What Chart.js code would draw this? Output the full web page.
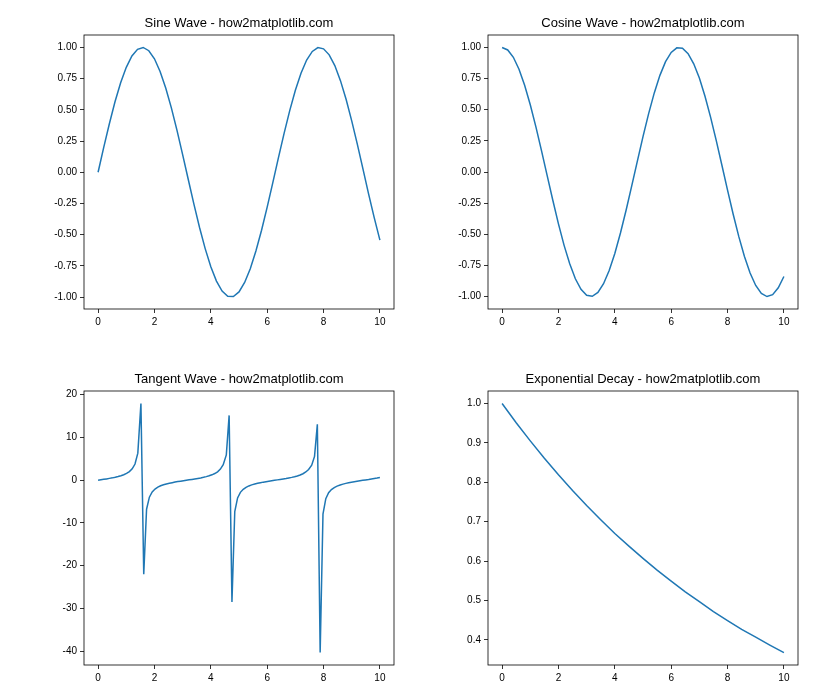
<!DOCTYPE html>
<html>
<head>
<meta charset="utf-8">
<script src="https://cdn.jsdelivr.net/npm/chart.js@4.4.1/dist/chart.umd.min.js"></script>
<style>
  html, body { margin: 0; padding: 0; background: #ffffff; }
  #wrap { position: relative; width: 840px; height: 700px; background: #ffffff; overflow: hidden; }
  canvas { position: absolute; }
</style>
</head>
<body>
<div id="wrap">
  <canvas id="c1" width="478" height="350" style="left:0px;top:0px"></canvas>
  <canvas id="c2" width="478" height="350" style="left:404px;top:0px"></canvas>
  <canvas id="c3" width="478" height="350" style="left:0px;top:356px"></canvas>
  <canvas id="c4" width="478" height="350" style="left:404px;top:356px"></canvas>
</div>
<script>
// ---------------- DATA ----------------
const titles = [
  "Sine Wave - how2matplotlib.com",
  "Cosine Wave - how2matplotlib.com",
  "Tangent Wave - how2matplotlib.com",
  "Exponential Decay - how2matplotlib.com"
];

// x positions for sine / cosine curves
const xWave = [0.0,0.2,0.4,0.6,0.8,1.0,1.2,1.4,1.6,1.8,2.0,2.2,2.4,2.6,2.8,3.0,3.2,3.4,3.6,3.8,
  4.0,4.2,4.4,4.6,4.8,5.0,5.2,5.4,5.6,5.8,6.0,6.2,6.4,6.6,6.8,7.0,7.2,7.4,7.6,7.8,
  8.0,8.2,8.4,8.6,8.8,9.0,9.2,9.4,9.6,9.8,10.0];

const sineValues = [0.000,0.199,0.389,0.565,0.717,0.841,0.932,0.985,1.000,0.974,
  0.909,0.808,0.675,0.516,0.335,0.141,-0.058,-0.256,-0.443,-0.612,
  -0.757,-0.872,-0.952,-0.994,-0.996,-0.959,-0.883,-0.773,-0.631,-0.465,
  -0.279,-0.083,0.117,0.312,0.494,0.657,0.794,0.899,0.968,0.999,
  0.989,0.941,0.855,0.734,0.585,0.412,0.223,0.025,-0.175,-0.366,-0.544];

const cosineValues = [1.000,0.980,0.921,0.825,0.697,0.540,0.362,0.170,-0.029,-0.227,
  -0.416,-0.589,-0.737,-0.857,-0.942,-0.990,-0.998,-0.967,-0.897,-0.791,
  -0.654,-0.490,-0.307,-0.112,0.087,0.284,0.469,0.635,0.776,0.886,
  0.960,0.997,0.993,0.950,0.869,0.754,0.608,0.439,0.252,0.054,
  -0.146,-0.339,-0.519,-0.679,-0.811,-0.911,-0.975,-1.000,-0.985,-0.930,-0.839];

// x positions for the tangent curve (100 samples)
const xTan = [0.00,0.10,0.20,0.30,0.40,0.51,0.61,0.71,0.81,0.91,
  1.01,1.11,1.21,1.31,1.41,1.52,1.62,1.72,1.82,1.92,
  2.02,2.12,2.22,2.32,2.42,2.53,2.63,2.73,2.83,2.93,
  3.03,3.13,3.23,3.33,3.43,3.54,3.64,3.74,3.84,3.94,
  4.04,4.14,4.24,4.34,4.44,4.55,4.65,4.75,4.85,4.95,
  5.05,5.15,5.25,5.35,5.45,5.56,5.66,5.76,5.86,5.96,
  6.06,6.16,6.26,6.36,6.46,6.57,6.67,6.77,6.87,6.97,
  7.07,7.17,7.27,7.37,7.47,7.58,7.68,7.78,7.88,7.98,
  8.08,8.18,8.28,8.38,8.48,8.59,8.69,8.79,8.89,8.99,
  9.09,9.19,9.29,9.39,9.49,9.60,9.70,9.80,9.90,10.00];

const tangentValues = [0.00,0.10,0.20,0.31,0.43,0.55,0.69,0.85,1.05,1.28,
  1.59,2.02,2.67,3.79,6.33,17.95,-22.01,-6.78,-3.96,-2.75,
  -2.07,-1.63,-1.31,-1.07,-0.87,-0.71,-0.57,-0.44,-0.32,-0.22,
  -0.11,-0.01,0.09,0.19,0.30,0.42,0.54,0.68,0.84,1.03,
  1.26,1.56,1.97,2.59,3.64,5.93,15.15,-28.48,-7.31,-4.14,
  -2.84,-2.13,-1.67,-1.34,-1.09,-0.89,-0.72,-0.58,-0.45,-0.34,
  -0.23,-0.12,-0.02,0.08,0.18,0.29,0.40,0.53,0.66,0.82,
  1.00,1.23,1.52,1.92,2.51,3.50,5.58,13.10,-40.30,-7.91,
  -4.33,-2.94,-2.19,-1.71,-1.37,-1.11,-0.91,-0.74,-0.59,-0.46,
  -0.35,-0.24,-0.13,-0.03,0.07,0.17,0.28,0.39,0.51,0.65];

// x positions for the exponential decay curve
const xExp = [0.0,0.5,1.0,1.5,2.0,2.5,3.0,3.5,4.0,4.5,5.0,5.5,6.0,6.5,7.0,7.5,8.0,8.5,9.0,9.5,10.0];
const expValues = [1.000,0.951,0.905,0.861,0.819,0.779,0.741,0.705,0.670,0.638,
  0.607,0.577,0.549,0.522,0.497,0.472,0.449,0.427,0.407,0.387,0.368];

// tick labels
const xTicks = [0, 2, 4, 6, 8, 10];
const waveTicks = [-1.00, -0.75, -0.50, -0.25, 0.00, 0.25, 0.50, 0.75, 1.00];
const tanTicks = [-40, -30, -20, -10, 0, 10, 20];
const expTicks = [0.4, 0.5, 0.6, 0.7, 0.8, 0.9, 1.0];

// ---------------- RENDER ----------------
const LINE = '#1f77b4';
const FONT = "'Liberation Sans', Arial, sans-serif";

function limits(arr) {
  const mn = Math.min(...arr), mx = Math.max(...arr);
  const m = (mx - mn) * 0.05;
  return [mn - m, mx + m];
}
function fmt(v, dec) {
  const s = Math.abs(v).toFixed(dec);
  return (v < 0 && Number(s) !== 0 ? '-' : '') + s;
}

const frame = {
  id: 'frame',
  afterDraw(chart) {
    const a = chart.chartArea, ctx = chart.ctx;
    ctx.save();
    ctx.strokeStyle = '#000';
    ctx.lineWidth = 0.8;
    ctx.strokeRect(a.left, a.top, a.right - a.left, a.bottom - a.top);
    ctx.restore();
  }
};

function makeChart(id, title, xs, ys, yTicks, dec) {
  const [xmin, xmax] = limits(xs);
  const [ymin, ymax] = limits(ys);
  return new Chart(document.getElementById(id), {
    type: 'line',
    data: {
      datasets: [{
        data: xs.map((x, i) => ({ x: x, y: ys[i] })),
        borderColor: LINE,
        borderWidth: 1.5,
        pointRadius: 0,
        tension: 0,
        fill: false
      }]
    },
    options: {
      responsive: false,
      animation: false,
      events: [],
      layout: { padding: 0 },
      plugins: {
        legend: { display: false },
        tooltip: { enabled: false },
        title: {
          display: true,
          text: title,
          color: '#000',
          font: { family: FONT, size: 13, weight: 'normal', lineHeight: 1.2 },
          padding: { top: 16, bottom: 3.4 }
        }
      },
      scales: {
        x: {
          type: 'linear',
          min: xmin, max: xmax,
          afterFit(s) { s.height = 41; },
          afterBuildTicks(s) { s.ticks = xTicks.map(v => ({ value: v })); },
          border: { display: false },
          grid: { display: true, drawOnChartArea: false, drawTicks: true, tickLength: 4, color: '#000', lineWidth: 0.8 },
          ticks: { color: '#000', font: { family: FONT, size: 10 }, padding: 3, maxRotation: 0, autoSkip: false,
                   callback: v => String(v) }
        },
        y: {
          type: 'linear',
          min: ymin, max: ymax,
          afterFit(s) { s.width = 84; },
          afterBuildTicks(s) { s.ticks = yTicks.map(v => ({ value: v })); },
          border: { display: false },
          grid: { display: true, drawOnChartArea: false, drawTicks: true, tickLength: 4, color: '#000', lineWidth: 0.8 },
          ticks: { color: '#000', font: { family: FONT, size: 10 }, padding: 3, autoSkip: false,
                   callback: v => fmt(v, dec) }
        },
        yRight: {
          type: 'linear',
          position: 'right',
          min: ymin, max: ymax,
          afterFit(s) { s.width = 84; },
          border: { display: false },
          grid: { display: false },
          ticks: { display: false }
        }
      }
    },
    plugins: [frame]
  });
}

makeChart('c1', titles[0], xWave, sineValues, waveTicks, 2);
makeChart('c2', titles[1], xWave, cosineValues, waveTicks, 2);
makeChart('c3', titles[2], xTan, tangentValues, tanTicks, 0);
makeChart('c4', titles[3], xExp, expValues, expTicks, 1);
</script>
</body>
</html>
